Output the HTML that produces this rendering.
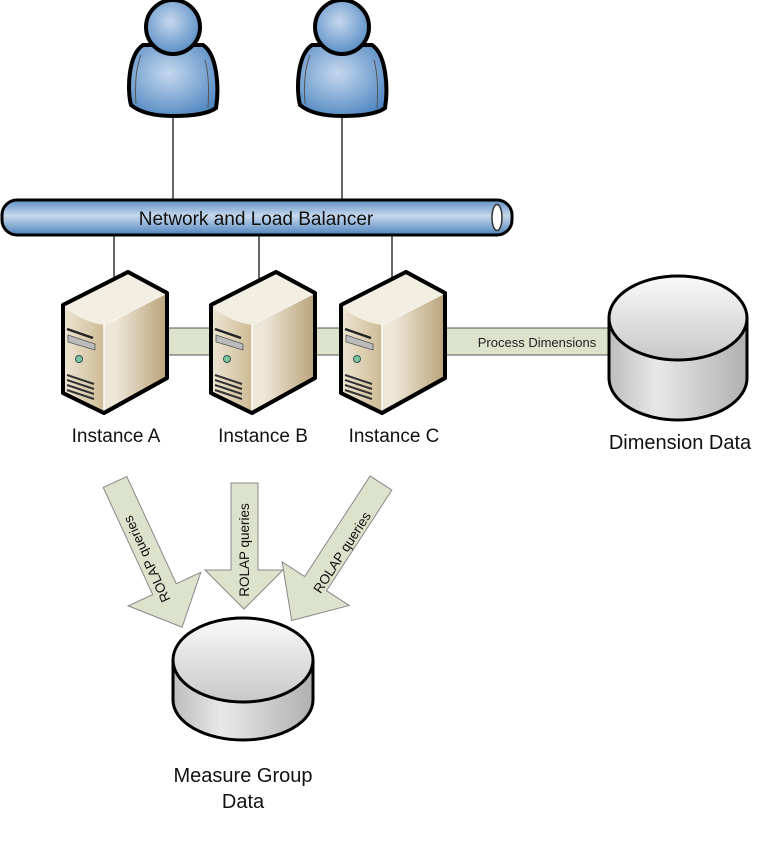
<!DOCTYPE html>
<html><head><meta charset="utf-8"><style>
html,body{margin:0;padding:0;background:#fff;}
svg{display:block;font-family:"Liberation Sans",sans-serif;}
</style></head><body>
<svg width="757" height="842" viewBox="0 0 757 842" xmlns="http://www.w3.org/2000/svg">
<defs>
<radialGradient id="ug" cx="0.45" cy="0.4" r="0.7">
<stop offset="0" stop-color="#c5d8ee"/><stop offset="1" stop-color="#4a83bf"/></radialGradient>
<linearGradient id="pg" x1="0" y1="0" x2="0" y2="1">
<stop offset="0" stop-color="#5d8fc4"/><stop offset="0.45" stop-color="#c6d8ec"/><stop offset="1" stop-color="#4f84bd"/></linearGradient>
<linearGradient id="sf" x1="0" y1="0" x2="1" y2="0">
<stop offset="0" stop-color="#ece3d0"/><stop offset="1" stop-color="#cdbb95"/></linearGradient>
<linearGradient id="ss" x1="0" y1="0" x2="1" y2="0">
<stop offset="0" stop-color="#e6dcc6"/><stop offset="0.5" stop-color="#efe8d9"/><stop offset="1" stop-color="#b9a37a"/></linearGradient>
<linearGradient id="cg" x1="0" y1="0" x2="0" y2="1">
<stop offset="0" stop-color="#fafafa"/><stop offset="1" stop-color="#c8c8c8"/></linearGradient>
<linearGradient id="cb" x1="0" y1="0" x2="1" y2="0">
<stop offset="0" stop-color="#bdbdbd"/><stop offset="0.35" stop-color="#e8e8e8"/><stop offset="1" stop-color="#b0b0b0"/></linearGradient>
<g id="user">
<path d="M-30,45 C-45,55 -46,90 -42,105 C-30,115 -10,116 0,116 C20,116 35,114 43,108 C46,90 45,55 30,45 Z" fill="url(#ug)" stroke="#000" stroke-width="4"/>
<path d="M-32,55 C-38,70 -38,90 -37,104 M32,60 C36,75 36,90 35,108" fill="none" stroke="#555" stroke-width="1"/>
<circle cx="0" cy="27" r="27" fill="url(#ug)" stroke="#000" stroke-width="4"/>
</g>
<g id="server">
<path d="M0,33 L65,0 L104,21 L104,106 L41,141 L0,121 Z" fill="url(#ss)" stroke="#000" stroke-width="4" stroke-linejoin="round"/>
<path d="M41,53 L104,21" stroke="#fff" stroke-width="1" fill="none"/>
<path d="M0,33 L65,0 L104,21 L41,53 Q20,50 2,36 Z" fill="#f3eee2"/>
<path d="M2,36 Q20,50 41,53 L41,141 L2,121 Z" fill="url(#sf)"/>
<path d="M41,53 L41,141" stroke="#fff" stroke-width="1.5"/>
<path d="M0,33 L65,0 L104,21 L104,106 L41,141 L0,121 Z" fill="none" stroke="#000" stroke-width="4" stroke-linejoin="round"/>
<path d="M4,57 L30,66 M6,66 L32,74" stroke="#222" stroke-width="2.5"/>
<path d="M5,63 L32,72 L32,78 L5,70Z" fill="#bbb" stroke="#555" stroke-width="0.8"/>
<circle cx="16" cy="87" r="3.5" fill="#7cc6a0" stroke="#355" stroke-width="1"/>
<path d="M4,103 L31,112 M4,108 L31,117 M4,113 L31,122 M4,118 L31,127" stroke="#333" stroke-width="2"/>
</g>
</defs>

<line x1="173" y1="112" x2="173" y2="200" stroke="#000" stroke-width="1.2"/>
<line x1="342" y1="112" x2="342" y2="200" stroke="#000" stroke-width="1.2"/>
<use href="#user" x="173" y="0"/>
<use href="#user" x="342" y="0"/>

<line x1="114" y1="236" x2="114" y2="280" stroke="#000" stroke-width="1.2"/>
<line x1="259" y1="236" x2="259" y2="280" stroke="#000" stroke-width="1.2"/>
<line x1="392" y1="236" x2="392" y2="280" stroke="#000" stroke-width="1.2"/>

<rect x="2" y="200" width="510" height="35" rx="15" fill="url(#pg)" stroke="#000" stroke-width="3"/>
<ellipse cx="497" cy="217.5" rx="5" ry="13" fill="#fff" stroke="#333" stroke-width="1.5"/>
<text x="256" y="225" font-size="19" text-anchor="middle" fill="#111">Network and Load Balancer</text>

<rect x="160" y="328" width="455" height="27" fill="#dde2cc" stroke="#555" stroke-width="1"/>
<text x="537" y="347" font-size="13" text-anchor="middle" fill="#222">Process Dimensions</text>

<use href="#server" x="63" y="272"/>
<use href="#server" x="211" y="272"/>
<use href="#server" x="341" y="272"/>
<text x="116" y="442" font-size="19" text-anchor="middle" fill="#111">Instance A</text>
<text x="263" y="442" font-size="19" text-anchor="middle" fill="#111">Instance B</text>
<text x="394" y="442" font-size="19" text-anchor="middle" fill="#111">Instance C</text>

<path d="M609,318 L609,378 A69,42 0 0 0 747,378 L747,318" fill="url(#cb)" stroke="#000" stroke-width="3"/>
<ellipse cx="678" cy="318" rx="69" ry="42" fill="url(#cg)" stroke="#000" stroke-width="3"/>
<text x="680" y="449" font-size="20" text-anchor="middle" fill="#111">Dimension Data</text>

<path d="M173,660 L173,700 A70,40 0 0 0 313,700 L313,660" fill="url(#cb)" stroke="#000" stroke-width="3"/>
<ellipse cx="243" cy="660" rx="70" ry="42" fill="url(#cg)" stroke="#000" stroke-width="3"/>
<text x="243" y="782" font-size="20" text-anchor="middle" fill="#111">Measure Group</text>
<text x="243" y="808" font-size="20" text-anchor="middle" fill="#111">Data</text>

<g fill="#dde2cc" stroke="#888" stroke-width="1">
<path d="M231,483 L258,483 L258,570 L283,570 L244,609 L205,570 L231,570 Z"/>
<g transform="translate(115,482) rotate(-24.8)">
<path d="M-13,0 L13,0 L13,118 L40,118 L0,160 L-40,118 L-13,118 Z"/>
</g>
<g transform="translate(381,483) rotate(33)">
<path d="M-13,0 L13,0 L13,120 L40,120 L0,164 L-40,120 L-13,120 Z"/>
</g>
</g>
<g font-size="13.5" fill="#111">
<text transform="translate(249,550) rotate(-90)" text-anchor="middle">ROLAP queries</text>
<text transform="translate(151,557) rotate(-114.8)" text-anchor="middle">ROLAP queries</text>
<text transform="translate(346,555) rotate(-57)" text-anchor="middle">ROLAP queries</text>
</g>
</svg>
</body></html>
